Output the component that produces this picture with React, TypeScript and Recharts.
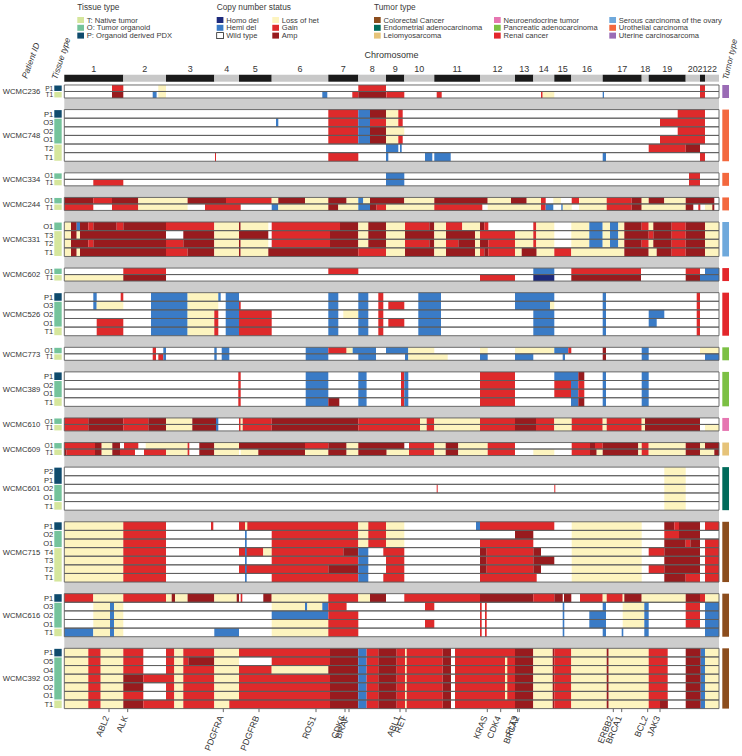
import React from 'react';
import { ComposedChart, XAxis, YAxis, ReferenceArea, Scatter } from 'recharts';

type Seg = [number, number, string];

const FONT = '"Liberation Sans", Arial, Helvetica, sans-serif';

// genome index (0 = start of chr1)
const CHROM_EDGES = [0, 59, 101.7, 150, 174.7, 207.4, 264, 294, 321.7, 340, 370, 415.7, 450.7, 469, 490, 507, 538.4, 577.4, 584.4, 621.4, 635.7, 640.7, 654.7];
const CHROM_NAMES = ['1', '2', '3', '4', '5', '6', '7', '8', '9', '10', '11', '12', '13', '14', '15', '16', '17', '18', '19', '20', '21', '22'];

const GENES = ['ABL2', 'ALK', 'PDGFRA', 'PDGFRB', 'ROS1', 'CDK6', 'BRAF', 'ABL1', 'RET', 'KRAS', 'CDK4', 'FLT3', 'BRCA2', 'ERBB2', 'BRCA1', 'BCL2', 'JAK3'];
const GENE_POS = [44.7, 63.4, 159, 194.7, 251.7, 280.7, 284.7, 335.7, 341.7, 423, 436.4, 453.4, 455, 549, 557.4, 583.4, 595.7];

const TISSUE_TYPES = ['T: Native tumor', 'O: Tumor organoid', 'P: Organoid derived PDX'];
const TISSUE_COLORS = ['#d5e69c', '#74c39b', '#0f4b6d'];

const CN_LABELS = ['Homo del', 'Hemi del', 'Wild type', 'Loss of het', 'Gain', 'Amp'];
const CN_CODES = ['H', 'D', 'W', 'L', 'G', 'A'];
const CN_COLORS = ['#1d2a7c', '#3a7bc6', '#ffffff', '#fdf4bf', '#de2a2b', '#981b1e'];

const TUMOR_TYPES = [
  'Colorectal Cancer', 'Endometrial adenocarcinoma', 'Leiomyosarcoma',
  'Neuroendocrine tumor', 'Pancreatic adenocarcinoma', 'Renal cancer',
  'Serous carcinoma of the ovary', 'Urothelial carcinoma', 'Uterine carcinosarcoma',
];
const TUMOR_COLORS = ['#8c4d1d', '#006b5b', '#e6c379', '#e676b1', '#7cc044', '#e3262b', '#6fa9dc', '#f3683e', '#9a6bb5'];

const PATIENTS = ['WCMC236', 'WCMC748', 'WCMC334', 'WCMC244', 'WCMC331', 'WCMC602', 'WCMC526', 'WCMC773', 'WCMC389', 'WCMC610', 'WCMC609', 'WCMC601', 'WCMC715', 'WCMC616', 'WCMC392'];
const SAMPLES = [
  ['P1', 'T1'],
  ['P1', 'O3', 'O2', 'O1', 'T2', 'T1'],
  ['O1', 'T1'],
  ['O1', 'T1'],
  ['O1', 'T3', 'T2', 'T1'],
  ['O1', 'T1'],
  ['P1', 'O3', 'O2', 'O1', 'T1'],
  ['O1', 'T1'],
  ['P1', 'O2', 'O1', 'T1'],
  ['O1', 'T1'],
  ['O1', 'T1'],
  ['P2', 'P1', 'O2', 'O1', 'T1'],
  ['P1', 'O2', 'O1', 'T4', 'T3', 'T2', 'T1'],
  ['P1', 'O3', 'O2', 'O1', 'T1'],
  ['P1', 'O5', 'O4', 'O3', 'O2', 'O1', 'T1'],
];
const PATIENT_TUMOR = [8, 7, 7, 7, 6, 5, 5, 4, 4, 3, 2, 1, 0, 0, 0];

// copy number segments: [start, end, status]
const WCMC236: Seg[][] = [
  [[47.7, 59, 'G'], [94, 101.7, 'L'], [294, 321.7, 'G'], [635.7, 640.7, 'G']],
  [[47.7, 59, 'A'], [88.4, 92.3, 'D'], [94, 101.7, 'L'], [258, 263, 'D'], [288, 294, 'G'], [294, 321.7, 'A'], [322, 340, 'G'], [372.4, 377.4, 'G'], [476.7, 478.4, 'G'], [478.4, 490, 'L'], [538.4, 539.7, 'D'], [635.7, 640.7, 'G']],
];

const WCMC748: Seg[][] = [
  [[264, 294, 'G'], [294, 305.7, 'D'], [305.7, 321.7, 'A'], [321.7, 334, 'L'], [334, 338.4, 'G'], [613.4, 640.7, 'G']],
  [[211.7, 214, 'D'], [264, 294, 'G'], [294, 305.7, 'D'], [305.7, 321.7, 'G'], [321.7, 334, 'L'], [334, 338.4, 'G'], [595.7, 640.7, 'G']],
  [[264, 294, 'G'], [294, 305.7, 'D'], [305.7, 321.7, 'A'], [321.7, 340, 'L'], [613.4, 640.7, 'G']],
  [[264, 294, 'G'], [294, 305.7, 'D'], [305.7, 321.7, 'A'], [321.7, 334, 'L'], [334, 338.4, 'G'], [595.7, 640.7, 'G']],
  [[321.7, 334, 'D'], [335.7, 337.4, 'D'], [584.4, 621.4, 'G'], [621.4, 635.7, 'A']],
  [[150.7, 151.7, 'G'], [264, 294, 'G'], [321.7, 324, 'D'], [360.7, 368, 'D'], [370, 386.4, 'D'], [538.4, 541.7, 'D'], [635.7, 640.7, 'G']],
];

const WCMC334: Seg[][] = [
  [[321.7, 340, 'D'], [624.7, 635.7, 'G']],
  [[29, 59, 'G'], [321.7, 340, 'D'], [624.7, 635.7, 'G']],
];

const WCMC244: Seg[][] = [
  [[0, 29, 'A'], [29, 47.7, 'G'], [47.7, 74, 'A'], [74, 123.3, 'L'], [123.3, 161.7, 'A'], [161.7, 207.4, 'G'], [207.4, 214, 'L'], [214, 240.7, 'A'], [240.7, 264, 'L'], [264, 282.3, 'A'], [282.3, 294, 'L'], [294, 299, 'D'], [299, 305.7, 'L'], [305.7, 340, 'A'], [340, 370, 'L'], [370, 423.4, 'A'], [423.4, 446.7, 'L'], [446.7, 462.4, 'A'], [462.4, 476.7, 'L'], [476.7, 481.4, 'G'], [489, 496.7, 'L'], [507.4, 514.7, 'G'], [514.7, 542.4, 'L'], [542.4, 567.4, 'G'], [567.4, 577.4, 'A'], [577.4, 584.4, 'L'], [584.4, 600, 'A'], [600, 621.4, 'L'], [621.4, 650, 'A']],
  [[0, 29, 'G'], [47.7, 74, 'G'], [74, 123.3, 'L'], [140.7, 176.4, 'G'], [207.4, 214, 'D'], [214, 264, 'L'], [264, 274, 'A'], [274, 294, 'L'], [294, 305.7, 'D'], [305.7, 312.3, 'A'], [312.3, 321.7, 'G'], [321.7, 370, 'L'], [370, 418, 'G'], [423.4, 476.7, 'L'], [476.7, 481.4, 'G'], [481.4, 489, 'D'], [497, 498.5, 'D'], [498.5, 507.4, 'L'], [514.7, 542.4, 'L'], [542.4, 567.4, 'G'], [567.4, 577.4, 'A'], [577.4, 621.4, 'L'], [621.4, 629, 'A'], [634, 636, 'G'], [640.7, 648, 'L'], [648, 650, 'A']],
];

const WCMC331: Seg[][] = [
  [[0, 6.7, 'L'], [6.7, 12.4, 'A'], [12.4, 15.7, 'D'], [15.7, 24, 'A'], [24, 29, 'G'], [29, 52.4, 'A'], [52.4, 59, 'G'], [59, 101.7, 'A'], [101.7, 150, 'G'], [150, 174.7, 'L'], [174.7, 176.4, 'A'], [176.4, 204, 'L'], [207.4, 275.7, 'G'], [275.7, 294, 'A'], [294, 304, 'L'], [304, 321.7, 'A'], [321.7, 340.7, 'L'], [340.7, 365, 'G'], [365, 370, 'A'], [370, 381.7, 'L'], [381.7, 398, 'G'], [398, 415.7, 'L'], [415.7, 420, 'A'], [420, 424, 'G'], [469, 472, 'G'], [472, 490, 'L'], [507, 525, 'L'], [525, 538.4, 'D'], [538.4, 545.7, 'L'], [545.7, 554, 'D'], [554, 560, 'L'], [560, 577.4, 'A'], [577.4, 584.4, 'G'], [584.4, 589, 'L'], [589, 607.4, 'A'], [607.4, 621.4, 'G'], [621.4, 640.7, 'A'], [640.7, 654.7, 'L']],
  [[0, 6.7, 'L'], [6.7, 12.4, 'A'], [12.4, 15.7, 'L'], [15.7, 101.7, 'A'], [119, 150, 'A'], [150, 174.7, 'L'], [174.7, 204, 'A'], [207.4, 265.7, 'G'], [265.7, 294, 'A'], [294, 304, 'L'], [304, 321.7, 'A'], [321.7, 340.7, 'L'], [340.7, 370, 'A'], [370, 381.7, 'L'], [381.7, 410.7, 'A'], [410.7, 415.7, 'L'], [415.7, 450.7, 'G'], [450.7, 469, 'L'], [469, 472, 'G'], [472, 490, 'L'], [507, 525, 'L'], [525, 538.4, 'D'], [538.4, 545.7, 'L'], [545.7, 554, 'D'], [554, 560, 'L'], [560, 584.4, 'A'], [584.4, 589, 'G'], [589, 607.4, 'A'], [607.4, 621.4, 'G'], [621.4, 640.7, 'A'], [640.7, 654.7, 'L']],
  [[0, 6.7, 'L'], [6.7, 24, 'A'], [24, 29, 'G'], [29, 101.7, 'A'], [101.7, 119, 'G'], [119, 150, 'A'], [150, 174.7, 'L'], [174.7, 176.4, 'A'], [176.4, 204, 'L'], [207.4, 265.7, 'G'], [265.7, 294, 'A'], [294, 304, 'L'], [304, 321.7, 'A'], [321.7, 340.7, 'L'], [340.7, 365, 'G'], [365, 370, 'A'], [370, 381.7, 'L'], [381.7, 394, 'G'], [394, 410.7, 'A'], [410.7, 415.7, 'L'], [415.7, 424, 'A'], [424, 450.7, 'G'], [450.7, 469, 'L'], [469, 472, 'G'], [472, 490, 'L'], [507, 525, 'L'], [525, 538.4, 'D'], [538.4, 545.7, 'L'], [545.7, 554, 'D'], [554, 560, 'L'], [560, 577.4, 'A'], [577.4, 584.4, 'G'], [584.4, 589, 'L'], [589, 607.4, 'A'], [607.4, 621.4, 'G'], [621.4, 640.7, 'A'], [640.7, 654.7, 'L']],
  [[0, 6.7, 'L'], [6.7, 12.4, 'A'], [12.4, 15.7, 'L'], [15.7, 101.7, 'A'], [101.7, 123.3, 'G'], [123.3, 150, 'A'], [150, 174.7, 'L'], [174.7, 176.4, 'A'], [176.4, 204, 'L'], [204, 294, 'A'], [294, 321.7, 'G'], [321.7, 340.7, 'L'], [340.7, 370, 'A'], [370, 381.7, 'L'], [381.7, 410.7, 'A'], [410.7, 415.7, 'L'], [415.7, 420, 'G'], [420, 424, 'A'], [424, 450.7, 'G'], [450.7, 457.4, 'L'], [457.4, 472.4, 'A'], [472.4, 490, 'L'], [490, 507, 'G'], [507, 560, 'L'], [560, 584.4, 'A'], [584.4, 592.4, 'L'], [592.4, 607.4, 'A'], [607.4, 621.4, 'G'], [621.4, 640.7, 'A'], [640.7, 654.7, 'L']],
];

const WCMC602: Seg[][] = [
  [[59, 101.7, 'G'], [264, 294, 'G'], [469, 490, 'D'], [507, 576.7, 'G'], [621.4, 635.7, 'G'], [640.7, 654.7, 'D']],
  [[0, 59, 'L'], [59, 101.7, 'A'], [415.7, 450.7, 'G'], [469, 490, 'H'], [507, 576.7, 'A'], [621.4, 635.7, 'A'], [635.7, 654.7, 'D']],
];

const WCMC526: Seg[][] = [
  [[29, 32.4, 'D'], [56.4, 59, 'G'], [86.7, 123.3, 'D'], [123.3, 154, 'L'], [154, 156.4, 'D'], [161.4, 174.7, 'D'], [264, 274, 'D'], [294, 304, 'D'], [314, 319, 'G'], [354, 376.7, 'D'], [450.7, 490, 'D'], [538.4, 541.7, 'D'], [632.4, 635.7, 'G']],
  [[29, 32.4, 'D'], [32.4, 59, 'L'], [86.7, 123.3, 'D'], [123.3, 154, 'L'], [161.4, 174.7, 'D'], [174.7, 176.4, 'G'], [264, 274, 'D'], [294, 304, 'D'], [314, 319, 'G'], [324, 340, 'G'], [354, 376.7, 'D'], [450.7, 485.7, 'D'], [485.7, 490, 'L'], [538.4, 541.7, 'D'], [632.4, 635.7, 'G']],
  [[86.7, 123.3, 'D'], [123.3, 150, 'L'], [150, 154, 'G'], [161.4, 174.7, 'D'], [174.7, 207.4, 'G'], [264, 274, 'D'], [279, 294, 'L'], [294, 304, 'D'], [314, 319, 'G'], [354, 376.7, 'D'], [469, 490, 'D'], [538.4, 541.7, 'D'], [584.4, 600, 'D'], [632.4, 635.7, 'G']],
  [[32.4, 59, 'G'], [86.7, 123.3, 'D'], [123.3, 150, 'L'], [150, 154, 'G'], [161.4, 174.7, 'D'], [174.7, 207.4, 'G'], [264, 274, 'D'], [294, 304, 'D'], [314, 319, 'G'], [324, 340, 'G'], [354, 376.7, 'D'], [469, 490, 'D'], [538.4, 541.7, 'D'], [584.4, 592.4, 'D'], [632.4, 635.7, 'G']],
  [[32.4, 59, 'G'], [86.7, 123.3, 'D'], [123.3, 150, 'L'], [150, 154, 'G'], [161.4, 174.7, 'D'], [174.7, 207.4, 'G'], [264, 274, 'D'], [294, 304, 'D'], [314, 319, 'G'], [354, 376.7, 'D'], [469, 490, 'D'], [538.4, 541.7, 'D'], [632.4, 635.7, 'G']],
];

const WCMC773: Seg[][] = [
  [[88.4, 91.7, 'G'], [99, 101.7, 'D'], [150, 152.4, 'D'], [157.4, 165, 'D'], [241.4, 264, 'D'], [264, 282.3, 'G'], [282.3, 288.4, 'L'], [288.4, 311.7, 'D'], [321.7, 344, 'D'], [344, 370, 'L'], [415.7, 423.4, 'L'], [450.7, 490, 'L'], [490, 504, 'D'], [504, 507, 'G'], [538.4, 541.7, 'A'], [577.4, 584.4, 'D'], [635.7, 654.7, 'L']],
  [[88.4, 91.7, 'G'], [94, 99, 'G'], [99, 101.7, 'D'], [150, 152.4, 'D'], [157.4, 165, 'D'], [241.4, 264, 'D'], [294, 311.7, 'D'], [340.7, 344, 'D'], [344, 383.4, 'L'], [415.7, 423.4, 'D'], [450.7, 469, 'D'], [498.4, 500.7, 'D'], [538.4, 541.7, 'A'], [577.4, 584.4, 'D'], [640.7, 654.7, 'D']],
];

const WCMC389: Seg[][] = [
  [[174, 176.4, 'G'], [241.4, 264, 'D'], [294, 302.3, 'D'], [336.7, 340, 'G'], [340, 344, 'D'], [415.7, 450.7, 'G'], [490, 514, 'D'], [514, 520, 'A'], [538.4, 541.7, 'D'], [577.4, 584.4, 'D']],
  [[174, 176.4, 'G'], [241.4, 264, 'D'], [294, 302.3, 'D'], [336.7, 340, 'G'], [340, 344, 'D'], [415.7, 450.7, 'G'], [490, 506.7, 'G'], [506.7, 514, 'D'], [514, 520, 'G'], [538.4, 541.7, 'D'], [577.4, 584.4, 'D']],
  [[174, 176.4, 'G'], [241.4, 264, 'D'], [294, 302.3, 'D'], [336.7, 340, 'G'], [340, 344, 'D'], [415.7, 450.7, 'G'], [490, 506.7, 'G'], [506.7, 514, 'D'], [514, 520, 'G'], [538.4, 541.7, 'D'], [577.4, 584.4, 'D']],
  [[174, 176.4, 'G'], [241.4, 264, 'D'], [264, 275, 'A'], [294, 302.3, 'D'], [336.7, 340, 'G'], [340, 344, 'D'], [415.7, 450.7, 'G'], [506.7, 514, 'D'], [514, 520, 'A'], [538.4, 541.7, 'D'], [577.4, 584.4, 'D']],
];

const R610: Seg[] = [[0, 24, 'G'], [24, 59, 'A'], [59, 84, 'G'], [84, 101.7, 'A'], [101.7, 128, 'L'], [128, 151.7, 'A'], [151.7, 154, 'D'], [174.7, 176.4, 'G'], [176.4, 178.4, 'L'], [178.4, 207.4, 'G'], [207.4, 294, 'A'], [294, 355.7, 'G'], [355.7, 362.4, 'L'], [362.4, 370, 'G'], [370, 415.7, 'L'], [415.7, 450.7, 'G'], [450.7, 471.7, 'A'], [471.7, 490, 'G'], [490, 507.4, 'L'], [507.4, 538.4, 'G'], [538.4, 542.4, 'L'], [542.4, 577.4, 'G'], [577.4, 580.7, 'L'], [580.7, 635.7, 'A']];
const WCMC610: Seg[][] = [
  R610,
  [...R610, [640.7, 654.7, 'L']],
];

const WCMC609: Seg[][] = [
  [[0, 30.7, 'G'], [30.7, 37.4, 'A'], [37.4, 48, 'L'], [48, 55.7, 'A'], [59.7, 74, 'G'], [81.4, 123.3, 'L'], [123.3, 125, 'G'], [135, 150, 'A'], [150, 174.7, 'L'], [174.7, 240.7, 'A'], [240.7, 264, 'G'], [264, 282.3, 'A'], [282.3, 294, 'L'], [294, 340, 'A'], [344.7, 370, 'G'], [370, 381.4, 'L'], [381.4, 394, 'A'], [394, 423.4, 'L'], [423.4, 450.7, 'G'], [507.4, 525.7, 'G'], [525.7, 530.7, 'A'], [530.7, 538.4, 'G'], [538.4, 574, 'A'], [574, 577.4, 'L'], [577.4, 584.4, 'G'], [584.4, 621.4, 'L'], [621.4, 635.7, 'A'], [635.7, 640.7, 'L'], [640.7, 654.7, 'A']],
  [[0, 2.3, 'A'], [2.3, 30.7, 'G'], [30.7, 37.4, 'A'], [37.4, 48, 'L'], [48, 55.7, 'A'], [55.7, 70.7, 'G'], [79.7, 101.7, 'G'], [101.7, 123.3, 'L'], [123.3, 125, 'G'], [135, 150, 'A'], [150, 174.7, 'L'], [176.4, 194, 'L'], [194, 240.7, 'A'], [240.7, 264, 'L'], [264, 282.3, 'A'], [282.3, 294, 'L'], [294, 322.4, 'A'], [322.4, 344.7, 'L'], [344.7, 370, 'G'], [370, 381.4, 'L'], [381.4, 394, 'A'], [394, 423.4, 'L'], [423.4, 450.7, 'G'], [469, 490, 'L'], [507.4, 525.7, 'G'], [525.7, 532.4, 'A'], [532.4, 538.4, 'L'], [538.4, 574, 'A'], [574, 577.4, 'L'], [577.4, 584.4, 'G'], [584.4, 621.4, 'L'], [621.4, 635.7, 'A'], [635.7, 650, 'L'], [650, 654.7, 'A']],
];

const WCMC601: Seg[][] = [
  [[600, 621.4, 'L']],
  [[600, 621.4, 'L']],
  [[372.4, 373.4, 'G'], [490, 491, 'G'], [600, 621.4, 'L']],
  [[600, 621.4, 'L']],
  [[600, 621.4, 'L']],
];

const WCMC715: Seg[][] = [
  [[0, 59, 'L'], [59, 101.7, 'G'], [146.7, 149, 'G'], [174.7, 180.7, 'G'], [180.7, 183, 'L'], [183, 294, 'G'], [294, 304, 'L'], [304, 321.7, 'G'], [321.7, 340, 'L'], [411.7, 415.7, 'D'], [415.7, 490, 'G'], [507.4, 577.4, 'L'], [600, 610, 'A'], [610, 614.7, 'G'], [614.7, 635.7, 'A'], [640.7, 654.7, 'G']],
  [[0, 59, 'L'], [59, 101.7, 'G'], [180.7, 182.4, 'D'], [207.4, 294, 'G'], [294, 304, 'L'], [304, 321.7, 'G'], [321.7, 340, 'L'], [450.7, 469, 'A'], [507.4, 577.4, 'L'], [600, 614.7, 'G'], [614.7, 635.7, 'A']],
  [[0, 59, 'L'], [59, 101.7, 'G'], [180.7, 182.4, 'D'], [207.4, 294, 'G'], [294, 304, 'L'], [304, 321.7, 'G'], [321.7, 340, 'L'], [415.7, 469, 'G'], [507.4, 577.4, 'L'], [600, 621.4, 'A'], [621.4, 626, 'G'], [626, 635.7, 'A'], [640.7, 654.7, 'G']],
  [[0, 59, 'L'], [59, 101.7, 'G'], [174.7, 199, 'G'], [180.7, 182.4, 'D'], [199, 207.4, 'L'], [207.4, 279, 'G'], [279, 294, 'A'], [294, 304, 'D'], [319, 321.7, 'G'], [321.7, 340, 'G'], [415.7, 422.4, 'A'], [422.4, 469, 'G'], [469, 476.7, 'A'], [507.4, 577.4, 'L'], [584.4, 600, 'G'], [600, 635.7, 'A'], [640.7, 654.7, 'G']],
  [[0, 59, 'L'], [59, 101.7, 'G'], [180.7, 182.4, 'D'], [207.4, 294, 'G'], [294, 304, 'D'], [321.7, 340, 'G'], [415.7, 422.4, 'A'], [422.4, 469, 'G'], [469, 490, 'A'], [507.4, 577.4, 'L'], [600, 635.7, 'A'], [640.7, 654.7, 'G']],
  [[0, 59, 'L'], [59, 101.7, 'G'], [174.7, 264, 'G'], [180.7, 182.4, 'D'], [264, 294, 'A'], [294, 304, 'D'], [321.7, 340, 'G'], [415.7, 422.4, 'A'], [422.4, 469, 'G'], [469, 476.7, 'A'], [507.4, 577.4, 'L'], [584.4, 600, 'G'], [600, 635.7, 'A'], [640.7, 654.7, 'G']],
  [[0, 59, 'L'], [59, 101.7, 'G'], [180.7, 182.4, 'D'], [207.4, 294, 'G'], [294, 304, 'D'], [319, 321.7, 'G'], [321.7, 340, 'G'], [415.7, 472.4, 'G'], [507.4, 577.4, 'L'], [600, 621.4, 'A'], [621.4, 635.7, 'G'], [640.7, 654.7, 'G']],
];

const WCMC616: Seg[][] = [
  [[0, 29, 'G'], [29, 59, 'L'], [59, 101.7, 'G'], [101.7, 107.4, 'L'], [107.4, 110.7, 'A'], [110.7, 123.3, 'L'], [123.3, 150, 'A'], [150, 172.4, 'L'], [172.4, 174.7, 'A'], [176.4, 178, 'G'], [199, 207.4, 'A'], [207.4, 264, 'L'], [264, 294, 'G'], [294, 305.7, 'L'], [305.7, 321.7, 'A'], [340, 415.7, 'G'], [415.7, 469, 'A'], [469, 490, 'G'], [490, 498.4, 'A'], [499.7, 507, 'A'], [515.7, 538.4, 'G'], [538.4, 542.4, 'L'], [542.4, 558.4, 'G'], [558.4, 560, 'L'], [560, 577.4, 'A'], [577.4, 621.4, 'L'], [621.4, 635.7, 'A'], [635.7, 640.7, 'G'], [640.7, 654.7, 'L']],
  [[29, 45.7, 'L'], [45.7, 49.7, 'D'], [49.7, 59, 'L'], [207.4, 240.7, 'L'], [240.7, 243, 'D'], [243, 258, 'L'], [258, 264, 'D'], [264, 282.3, 'G'], [360.7, 370, 'G'], [415.7, 417.4, 'G'], [420.7, 422.4, 'G'], [498.4, 500, 'D'], [538.4, 541.7, 'D'], [558.4, 580, 'L'], [580, 584.4, 'D'], [621.4, 635.7, 'G'], [640.7, 654.7, 'D']],
  [[29, 45.7, 'L'], [45.7, 49.7, 'D'], [49.7, 59, 'L'], [207.4, 264, 'D'], [264, 294, 'G'], [415.7, 417.4, 'G'], [420.7, 422.4, 'G'], [498.4, 500, 'D'], [525, 541.7, 'D'], [558.4, 580, 'L'], [580, 584.4, 'D'], [621.4, 635.7, 'G'], [640.7, 654.7, 'D']],
  [[29, 45.7, 'L'], [45.7, 49.7, 'D'], [49.7, 59, 'L'], [207.4, 264, 'L'], [264, 294, 'G'], [360.7, 370, 'G'], [415.7, 417.4, 'G'], [420.7, 422.4, 'G'], [498.4, 500, 'D'], [525, 541.7, 'D'], [558.4, 580, 'L'], [580, 584.4, 'D'], [621.4, 635.7, 'G'], [640.7, 654.7, 'D']],
  [[0, 29, 'D'], [29, 45.7, 'L'], [45.7, 49.7, 'D'], [49.7, 59, 'L'], [150, 174.7, 'D'], [207.4, 264, 'L'], [264, 294, 'G'], [415.7, 417.4, 'G'], [420.7, 422.4, 'G'], [498.4, 500, 'D'], [538.4, 541.7, 'D'], [557.4, 559, 'D'], [580, 584.4, 'D'], [640.7, 654.7, 'D']],
];

const R392_LEFT: Seg[] = [[0, 24, 'L'], [24, 36.4, 'G'], [36.4, 59, 'L']];
const R392_RIGHT: Seg[] = [[294, 302.3, 'D'], [302.3, 314, 'G'], [314, 332.4, 'A'], [332.4, 340.7, 'G'], [340.7, 342.4, 'L'], [342.4, 378.4, 'G'], [378.4, 386.7, 'A'], [390.7, 450.7, 'G'], [450.7, 469, 'A'], [469, 488.4, 'L'], [488.4, 490, 'A'], [490, 507, 'G'], [507, 542.4, 'L'], [542.4, 544.4, 'A'], [544.4, 584.4, 'L'], [584.4, 603.4, 'G'], [621.4, 636.4, 'A'], [636.4, 640.7, 'D'], [640.7, 654.7, 'L']];
const WCMC392: Seg[][] = [
  [...R392_LEFT, [59, 79, 'G'], [101.7, 110, 'G'], [110, 119, 'L'], [119, 150, 'G'], [150, 174.7, 'L'], [174.7, 265.7, 'G'], [265.7, 294, 'A'], ...R392_RIGHT],
  [...R392_LEFT, [59, 79, 'G'], [101.7, 110, 'G'], [110, 119, 'L'], [119, 124, 'G'], [124, 150, 'A'], [150, 174.7, 'L'], [207.4, 265.7, 'G'], [265.7, 294, 'A'], ...R392_RIGHT, [440.7, 443, 'L']],
  [...R392_LEFT, [59, 79, 'G'], [101.7, 110, 'G'], [110, 119, 'L'], [119, 150, 'G'], [150, 174.7, 'L'], [174.7, 207.4, 'G'], [207.4, 264, 'L'], [264, 294, 'A'], ...R392_RIGHT, [440.7, 443, 'L']],
  [...R392_LEFT, [59, 79, 'A'], [79, 110, 'G'], [110, 119, 'L'], [119, 150, 'G'], [150, 174.7, 'L'], [174.7, 265.7, 'G'], [265.7, 294, 'A'], ...R392_RIGHT, [440.7, 443, 'L']],
  [...R392_LEFT, [59, 79, 'A'], [101.7, 110, 'G'], [110, 119, 'L'], [119, 150, 'G'], [150, 174.7, 'L'], [174.7, 265.7, 'G'], [265.7, 294, 'A'], ...R392_RIGHT, [440.7, 443, 'L']],
  [...R392_LEFT, [59, 79, 'G'], [101.7, 110, 'G'], [110, 119, 'L'], [119, 150, 'G'], [150, 174.7, 'L'], [174.7, 265.7, 'G'], [265.7, 294, 'A'], ...R392_RIGHT, [440.7, 443, 'L']],
  [...R392_LEFT, [59, 79, 'A'], [79, 110, 'G'], [110, 119, 'L'], [119, 150, 'G'], [150, 165, 'L'], [165, 265.7, 'G'], [265.7, 294, 'A'], ...R392_RIGHT, [595.7, 603.4, 'A']],
];

const SEGMENTS = [WCMC236, WCMC748, WCMC334, WCMC244, WCMC331, WCMC602, WCMC526, WCMC773, WCMC389, WCMC610, WCMC609, WCMC601, WCMC715, WCMC616, WCMC392];

// ---- layout (row units) ----
const ROW_H = 1;
const COMPACT_H = 0.754;
const GAP_H = 1.347;
const HEADER_Y: [number, number] = [-1.196, -0.383];
const TISSUE_X: [number, number] = [-10, -2.6];
const TUMOR_X: [number, number] = [658, 664.7];

const rows: { patient: number; sample: string; y1: number; y2: number; segs: Seg[]; compact: boolean }[] = [];
const blocks: { y1: number; y2: number; tumor: number; id: string }[] = [];
const gaps: [number, number][] = [];
const tissueGroups: { y1: number; y2: number; type: string }[] = [];
let cursor = 0;
PATIENTS.forEach((id, i) => {
  const compact = SAMPLES[i].length === 2;
  const h = compact ? COMPACT_H : ROW_H;
  const start = cursor;
  SAMPLES[i].forEach((s, j) => {
    rows.push({ patient: i, sample: s, y1: cursor, y2: cursor + h, segs: SEGMENTS[i][j], compact });
    const last = tissueGroups[tissueGroups.length - 1];
    if (j > 0 && last && last.type === s[0]) last.y2 = cursor + h;
    else tissueGroups.push({ y1: cursor, y2: cursor + h, type: s[0] });
    cursor += h;
  });
  blocks.push({ y1: start, y2: cursor, tumor: PATIENT_TUMOR[i], id });
  if (i < PATIENTS.length - 1) {
    gaps.push([cursor, cursor + GAP_H]);
    cursor += GAP_H;
  }
});

const X_DOMAIN = [-10.3, 665.7];
const Y_DOMAIN = [-1.3, cursor];

const key = (v: number) => v.toFixed(3);
const CHROM_CENTERS = CHROM_NAMES.map((_, i) => (CHROM_EDGES[i] + CHROM_EDGES[i + 1]) / 2);
const chromByPos = new Map(CHROM_CENTERS.map((c, i) => [key(c), CHROM_NAMES[i]]));
const geneByPos = new Map(GENE_POS.map((g, i) => [key(g), GENES[i]]));
const ROW_CENTERS = rows.map((r) => (r.y1 + r.y2) / 2);
const rowByPos = new Map(rows.map((r, i) => [key(ROW_CENTERS[i]), r]));
const BLOCK_CENTERS = blocks.map((b) => (b.y1 + b.y2) / 2);
const patientByPos = new Map(blocks.map((b, i) => [key(BLOCK_CENTERS[i]), b.id]));

// invisible anchor points so both axis pairs have data
const anchorA = [{ x: X_DOMAIN[0], y: Y_DOMAIN[0] }, { x: X_DOMAIN[1], y: Y_DOMAIN[1] }];
const anchorB = [{ x: X_DOMAIN[0], y: Y_DOMAIN[0] }, { x: X_DOMAIN[1], y: Y_DOMAIN[1] }];

const cnColor = (code: string) => CN_COLORS[CN_CODES.indexOf(code)];
const tissueColor = (t: string) => TISSUE_COLORS['TOP'.indexOf(t)];

const PLOT_BOTTOM = 708.6;

function ChromTick({ x, payload }: any) {
  return (
    <text x={x} y={71.5} textAnchor="middle" fontSize={9} fill="#333" fontFamily={FONT}>
      {chromByPos.get(key(payload.value))}
    </text>
  );
}

function GeneTick({ x, payload }: any) {
  return (
    <text transform={`translate(${x + 0.4},${PLOT_BOTTOM + 8.8}) rotate(-68)`} textAnchor="end" fontSize={8.8} fill="#333" fontFamily={FONT}>
      {geneByPos.get(key(payload.value))}
    </text>
  );
}

function SampleTick({ y, payload }: any) {
  const r = rowByPos.get(key(payload.value));
  const fs = r?.compact ? 6.6 : 7.6;
  return (
    <text x={53.3} y={y} dy={fs * 0.36} textAnchor="end" fontSize={fs} fill="#333" fontFamily={FONT}>
      {r?.sample}
    </text>
  );
}

function PatientTick({ y, payload }: any) {
  return (
    <text x={2.7} y={y} dy={2.8} textAnchor="start" fontSize={7.7} fill="#333" fontFamily={FONT}>
      {patientByPos.get(key(payload.value))}
    </text>
  );
}

function Legend() {
  const title = (x: number, text: string) => (
    <text x={x} y={9.6} fontSize={8.3} fill="#3a3a3a">{text}</text>
  );
  const item = (x: number, i: number, color: string, label: string, border = false) => (
    <g key={label}>
      <rect x={x} y={17 + i * 7.8} width={6.7} height={6} fill={color} stroke={border ? '#222' : 'none'} strokeWidth={0.8} />
      <text x={x + 9.5} y={22.6 + i * 7.8} fontSize={7.6} fill="#3a3a3a">{label}</text>
    </g>
  );
  return (
    <svg width={742} height={756} style={{ position: 'absolute', left: 0, top: 0, pointerEvents: 'none' }} fontFamily={FONT}>
      {title(77.3, 'Tissue type')}
      {TISSUE_TYPES.map((t, i) => item(77.3, i, TISSUE_COLORS[i], t))}
      {title(216.7, 'Copy number status')}
      {CN_LABELS.map((t, i) => item(i < 3 ? 216.7 : 272.3, i % 3, CN_COLORS[i], t, CN_CODES[i] === 'W'))}
      {title(374, 'Tumor type')}
      {TUMOR_TYPES.map((t, i) => item([374, 494, 609.3][Math.floor(i / 3)], i % 3, TUMOR_COLORS[i], t))}
      <text x={391.5} y={58} textAnchor="middle" fontSize={9} fill="#333">Chromosome</text>
      <text transform="translate(27,79) rotate(-70)" fontSize={8.5} fill="#333" fontStyle="italic">Patient ID</text>
      <text transform="translate(57,80) rotate(-72)" fontSize={8.5} fill="#333" fontStyle="italic">Tissue type</text>
      <text transform="translate(728,80) rotate(-77)" fontSize={8.3} fill="#333" fontStyle="italic">Tumor type</text>
    </svg>
  );
}

export default function App() {
  const areas: React.ReactNode[] = [];
  const xEnd = CHROM_EDGES[CHROM_EDGES.length - 1];

  gaps.forEach(([y1, y2], i) => {
    areas.push(<ReferenceArea key={`gap${i}`} x1={0} x2={xEnd} y1={y1} y2={y2} fill="#cdcdcd" fillOpacity={1} stroke="none" ifOverflow="visible" />);
  });

  CHROM_NAMES.forEach((_, i) => {
    areas.push(<ReferenceArea key={`chr${i}`} x1={CHROM_EDGES[i]} x2={CHROM_EDGES[i + 1]} y1={HEADER_Y[0]} y2={HEADER_Y[1]} fill={i % 2 === 0 ? '#1b1b1b' : '#c8c8c8'} fillOpacity={1} stroke="none" ifOverflow="visible" />);
  });

  rows.forEach((r, ri) => {
    r.segs.forEach(([s, e, c], si) => {
      areas.push(<ReferenceArea key={`s${ri}_${si}`} x1={s} x2={e} y1={r.y1} y2={r.y2} fill={cnColor(c)} fillOpacity={1} stroke="none" ifOverflow="visible" />);
    });
  });

  rows.forEach((r, ri) => {
    areas.push(<ReferenceArea key={`o${ri}`} x1={0} x2={xEnd} y1={r.y1} y2={r.y2} fill="none" stroke="#5c5c5c" strokeWidth={0.9} ifOverflow="visible" />);
  });

  tissueGroups.forEach((g, gi) => {
    areas.push(<ReferenceArea key={`t${gi}`} x1={TISSUE_X[0]} x2={TISSUE_X[1]} y1={g.y1 + 0.06} y2={g.y2 - 0.06} fill={tissueColor(g.type)} fillOpacity={1} stroke="none" ifOverflow="visible" />);
  });

  blocks.forEach((b, bi) => {
    areas.push(<ReferenceArea key={`b${bi}`} x1={TUMOR_X[0]} x2={TUMOR_X[1]} y1={b.y1} y2={b.y2} fill={TUMOR_COLORS[b.tumor]} fillOpacity={1} stroke="none" ifOverflow="visible" />);
  });

  const noShape = () => <g />;

  return (
    <div style={{ position: 'relative', width: 742, height: 756, background: '#fff', fontFamily: FONT }}>
      <style>{'body{margin:0}'}</style>
      <ComposedChart width={742} height={756} margin={{ top: 72.8, right: 12, bottom: 46.4, left: 52 }}>
        <XAxis xAxisId={0} dataKey="x" type="number" orientation="top" domain={X_DOMAIN} allowDataOverflow ticks={CHROM_CENTERS} interval={0} tick={<ChromTick />} tickLine={false} axisLine={false} height={1} />
        <XAxis xAxisId="gene" dataKey="x" type="number" orientation="bottom" domain={X_DOMAIN} allowDataOverflow ticks={GENE_POS} interval={0} tick={<GeneTick />} tickLine={{ stroke: '#666' }} tickSize={3.5} axisLine={false} height={1} />
        <YAxis yAxisId={0} dataKey="y" type="number" domain={Y_DOMAIN} reversed allowDataOverflow ticks={ROW_CENTERS} interval={0} tick={<SampleTick />} tickLine={false} axisLine={false} width={1} />
        <YAxis yAxisId="pat" dataKey="y" type="number" domain={Y_DOMAIN} reversed allowDataOverflow ticks={BLOCK_CENTERS} interval={0} tick={<PatientTick />} tickLine={false} axisLine={false} width={1} />
        {areas}
        <Scatter xAxisId={0} yAxisId={0} data={anchorA} shape={noShape} isAnimationActive={false} />
        <Scatter xAxisId="gene" yAxisId="pat" data={anchorB} shape={noShape} isAnimationActive={false} />
      </ComposedChart>
      <Legend />
    </div>
  );
}
